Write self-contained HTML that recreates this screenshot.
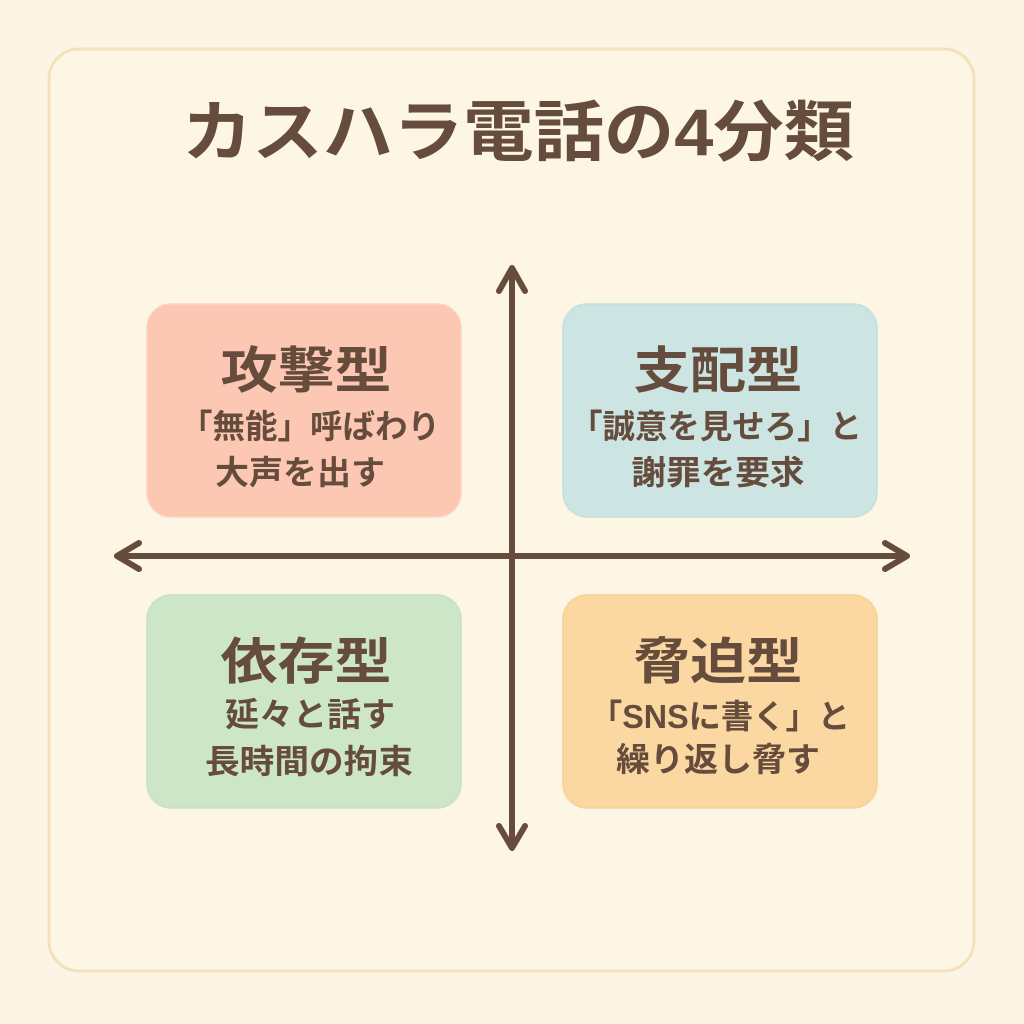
<!DOCTYPE html>
<html><head><meta charset="utf-8"><style>
html,body{margin:0;padding:0;background:#fcf5e6;}
svg{display:block}
text{font-family:"Liberation Sans","Noto Sans CJK JP",sans-serif;font-weight:bold;fill:#654c3c;text-anchor:middle}
</style></head><body>
<svg width="1024" height="1024" viewBox="0 0 1024 1024" xmlns="http://www.w3.org/2000/svg">
<rect width="1024" height="1024" fill="#fcf5e6"/>
<rect x="49" y="49" width="925" height="922" rx="30" fill="#fdf6e5" stroke="#f4e1bb" stroke-width="3"/>
<text x="518" y="155" font-size="66" textLength="672" lengthAdjust="spacingAndGlyphs">カスハラ電話の4分類</text>

<rect x="147" y="304" width="314" height="213" rx="24" fill="#fdc8b3" stroke="#fbd3c0" stroke-width="1.5"/>
<rect x="563" y="304" width="314" height="213" rx="24" fill="#cce5e3" stroke="#c2e0e0" stroke-width="1.5"/>
<rect x="147" y="595" width="314" height="213" rx="24" fill="#cde6c8" stroke="#c6e2c2" stroke-width="1.5"/>
<rect x="563" y="595" width="314" height="213" rx="24" fill="#fbd8a2" stroke="#f6d19a" stroke-width="1.5"/>

<g stroke="#654c3c" stroke-width="6" stroke-linecap="round" stroke-linejoin="round" fill="none">
<line x1="512" y1="270" x2="512" y2="846"/>
<line x1="120" y1="556" x2="904" y2="556"/>
<polyline points="499,291 512,268 525,291"/>
<polyline points="499,826 512,848 525,826"/>
<polyline points="139,543 117,556 139,569"/>
<polyline points="885,543 907,556 885,569"/>
</g>

<text x="306" y="388" font-size="50" textLength="171" lengthAdjust="spacingAndGlyphs">攻撃型</text>
<text x="310" y="438" font-size="33" textLength="260" lengthAdjust="spacingAndGlyphs">「無能」呼ばわり</text>
<text x="300" y="484" font-size="33" textLength="170" lengthAdjust="spacingAndGlyphs">大声を出す</text>

<text x="718" y="388" font-size="50" textLength="169" lengthAdjust="spacingAndGlyphs">支配型</text>
<text x="716" y="438" font-size="33" textLength="292" lengthAdjust="spacingAndGlyphs">「誠意を見せろ」と</text>
<text x="718" y="484" font-size="33" textLength="173" lengthAdjust="spacingAndGlyphs">謝罪を要求</text>

<text x="306" y="679" font-size="50" textLength="171" lengthAdjust="spacingAndGlyphs">依存型</text>
<text x="310" y="726" font-size="33" textLength="170" lengthAdjust="spacingAndGlyphs">延々と話す</text>
<text x="309" y="773" font-size="33" textLength="208" lengthAdjust="spacingAndGlyphs">長時間の拘束</text>

<text x="718" y="679" font-size="50" textLength="169" lengthAdjust="spacingAndGlyphs">脅迫型</text>
<text x="720" y="728" font-size="33" textLength="260" lengthAdjust="spacingAndGlyphs">「SNSに書く」と</text>
<text x="718" y="771" font-size="33" textLength="204" lengthAdjust="spacingAndGlyphs">繰り返し脅す</text>
</svg>
</body></html>
